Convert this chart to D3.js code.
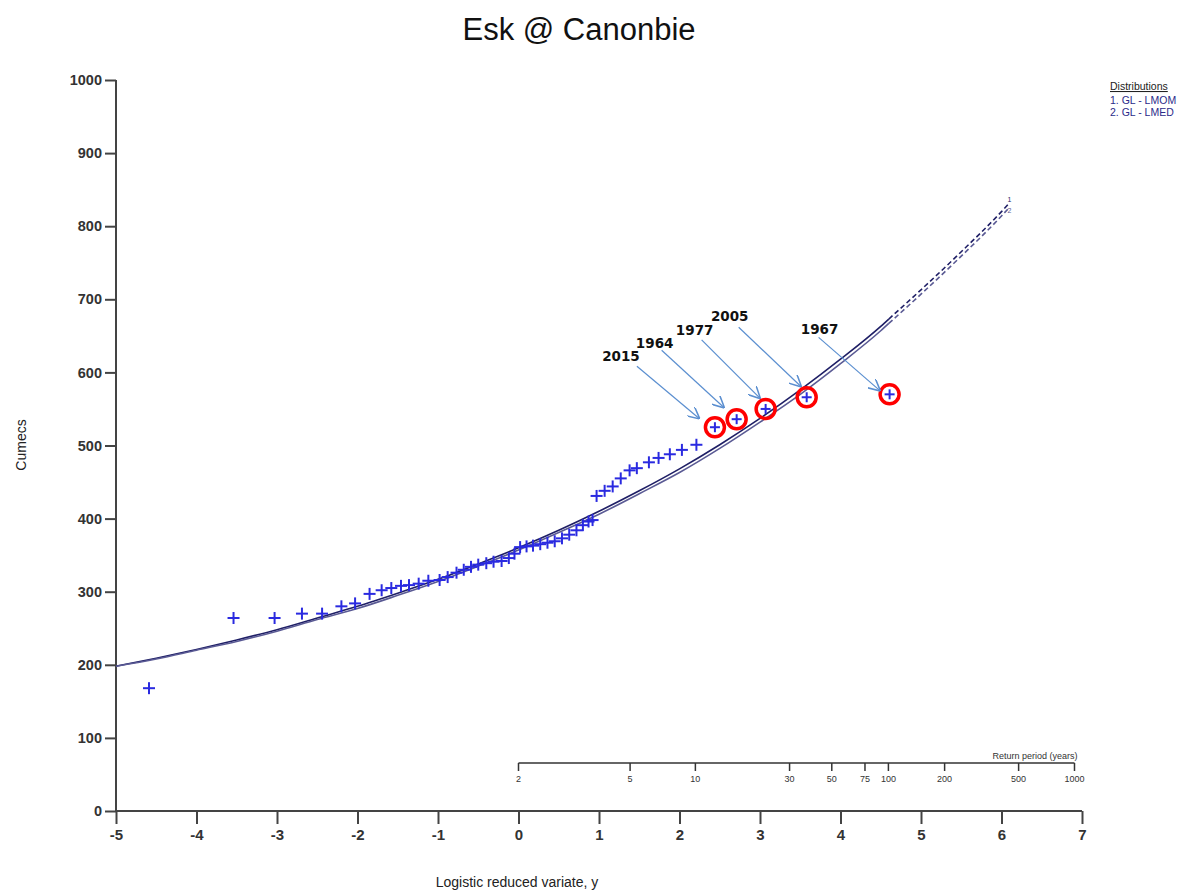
<!DOCTYPE html>
<html>
<head>
<meta charset="utf-8">
<script src="https://cdn.jsdelivr.net/npm/d3@7"></script>
<style>
  html, body { margin: 0; padding: 0; background: #ffffff; }
  svg { display: block; }
</style>
</head>
<body>
<svg id="chart" width="1188" height="890"></svg>
<script>
// ---------------- DATA ----------------
const title = "Esk @ Canonbie";
const yTicks = [0, 100, 200, 300, 400, 500, 600, 700, 800, 900, 1000];
const xTicks = [-5, -4, -3, -2, -1, 0, 1, 2, 3, 4, 5, 6, 7];
const returnPeriods = [2, 5, 10, 30, 50, 75, 100, 200, 500, 1000];
const legendItems = ["1. GL - LMOM", "2. GL - LMED"];

// observed annual maxima: logistic reduced variate and flow (cumecs)
const obsVariate = [-4.59, -3.54, -3.03, -2.69, -2.44, -2.20, -2.03, -1.85, -1.70, -1.58,
  -1.46, -1.36, -1.24, -1.12, -0.98, -0.88, -0.77, -0.68, -0.59, -0.50,
  -0.40, -0.31, -0.21, -0.12, -0.05, 0.02, 0.10, 0.18, 0.27, 0.36,
  0.45, 0.54, 0.63, 0.72, 0.80, 0.87, 0.92, 0.97, 1.07, 1.17,
  1.27, 1.38, 1.47, 1.62, 1.74, 1.88, 2.03, 2.21];
const obsFlow = [168, 264, 264, 270, 270, 280, 284, 297, 302, 305,
  308, 309, 311, 315, 316, 320, 326, 330, 334, 337,
  339, 341, 342, 346, 352, 361, 362, 363, 365, 367,
  369, 373, 378, 384, 391, 396, 398, 431, 438, 444,
  455, 466, 469, 477, 483, 488, 494, 501];

// highlighted events
const eventYears = ["2015", "1964", "1977", "2005", "1967"];
const eventVariate = [2.44, 2.71, 3.07, 3.58, 4.61];
const eventFlow = [525, 536, 550, 566, 570];

// fitted growth curves
const curveVariate = [-5, -4.5, -4, -3.5, -3, -2.5, -2, -1.5, -1, -0.5, 0, 0.5, 1, 1.5,
  2, 2.5, 3, 3.5, 4, 4.5, 4.6, 5, 5.5, 6, 6.1];
const glLmom = [198, 209, 221, 234, 248, 264, 280, 298, 317, 338, 360, 384, 410, 438,
  468, 501, 537, 576, 618, 663, 673, 713, 765, 820, 832];
const glLmed = [198, 208, 220, 232, 246, 262, 277, 295, 314, 335, 357, 381, 406, 434,
  463, 496, 532, 570, 612, 657, 667, 707, 759, 814, 826];
const solidLimit = 4.6;

// ---------------- LAYOUT ----------------
const svg = d3.select("#chart");
const x = d3.scaleLinear().domain([-5, 7]).range([116, 1082]);
const y = d3.scaleLinear().domain([0, 1000]).range([811, 80]);
const axisFont = "'Liberation Sans Narrow', 'Liberation Sans', Arial, sans-serif";

// title
svg.append("text").attr("x", 579).attr("y", 40).attr("text-anchor", "middle")
  .attr("font-family", "'Liberation Sans', Arial, sans-serif").attr("font-size", 31)
  .attr("fill", "#111").text(title);

// y axis
const yAxis = d3.axisLeft(y).tickValues(yTicks).tickSize(11).tickPadding(3)
  .tickFormat(d => String(d));
const gy = svg.append("g").attr("transform", `translate(${x(-5)},0)`).call(yAxis);
gy.select(".domain").attr("d", `M0,${y(1000)}V${y(0)}`).attr("stroke", "#444").attr("stroke-width", 2);
gy.selectAll(".tick line").attr("stroke", "#444").attr("stroke-width", 2);
gy.selectAll(".tick text").attr("font-family", "'Liberation Sans', Arial, sans-serif")
  .attr("font-size", 14.5).attr("font-weight", "bold").attr("fill", "#333");

// x axis
const xAxis = d3.axisBottom(x).tickValues(xTicks).tickSize(13).tickPadding(5)
  .tickFormat(d => String(d));
const gx = svg.append("g").attr("transform", `translate(0,${y(0)})`).call(xAxis);
gx.select(".domain").attr("d", `M${x(-5)},0H${x(7)}`).attr("stroke", "#444").attr("stroke-width", 2);
gx.selectAll(".tick line").attr("stroke", "#444").attr("stroke-width", 2);
gx.selectAll(".tick text").attr("font-family", axisFont)
  .attr("font-size", 15).attr("font-weight", "bold").attr("fill", "#333");

// axis titles
svg.append("text").attr("transform", `translate(26,445) rotate(-90)`).attr("text-anchor", "middle")
  .attr("font-family", axisFont).attr("font-size", 14).attr("fill", "#222").text("Cumecs");
svg.append("text").attr("x", 517).attr("y", 887).attr("text-anchor", "middle")
  .attr("font-family", axisFont).attr("font-size", 14).attr("fill", "#222")
  .text("Logistic reduced variate, y");

// return period axis
const rpY = 763;
const rpPos = T => x(Math.log(T - 1));
const rp = svg.append("g");
rp.append("line").attr("x1", rpPos(2)).attr("x2", rpPos(1000)).attr("y1", rpY).attr("y2", rpY)
  .attr("stroke", "#333").attr("stroke-width", 1.5);
rp.selectAll("line.rt").data(returnPeriods).join("line").attr("class", "rt")
  .attr("x1", d => rpPos(d)).attr("x2", d => rpPos(d)).attr("y1", rpY).attr("y2", rpY + 8)
  .attr("stroke", "#333").attr("stroke-width", 1.5);
rp.selectAll("text.rl").data(returnPeriods).join("text").attr("class", "rl")
  .attr("x", d => rpPos(d)).attr("y", rpY + 19).attr("text-anchor", "middle")
  .attr("font-family", axisFont).attr("font-size", 9).attr("fill", "#333").text(d => d);
rp.append("text").attr("x", rpPos(1000) + 3).attr("y", rpY - 4).attr("text-anchor", "end")
  .attr("font-family", axisFont).attr("font-size", 9).attr("fill", "#333")
  .text("Return period (years)");

// fitted curves
const curves = [
  { vals: glLmom, color: "#1f1f66", label: "1" },
  { vals: glLmed, color: "#5a5a94", label: "2" }
];
const line = d3.line().x(d => x(d[0])).y(d => y(d[1])).curve(d3.curveMonotoneX);
curves.forEach(c => {
  const pts = curveVariate.map((v, i) => [v, c.vals[i]]);
  svg.append("path").attr("d", line(pts.filter(p => p[0] <= solidLimit)))
    .attr("fill", "none").attr("stroke", c.color).attr("stroke-width", 1.6);
  svg.append("path").attr("d", line(pts.filter(p => p[0] >= solidLimit)))
    .attr("fill", "none").attr("stroke", c.color).attr("stroke-width", 1.6)
    .attr("stroke-dasharray", "5,3");
  const last = pts[pts.length - 1];
  svg.append("text").attr("x", x(last[0])).attr("y", y(last[1]) + (c.label === "1" ? -1 : 6))
    .attr("text-anchor", "middle").attr("font-family", axisFont).attr("font-size", 7)
    .attr("fill", c.color).text(c.label);
});

// observed points
const crossColor = "#2a2ae0";
function drawCross(g, cx, cy, h) {
  g.append("line").attr("x1", cx - h).attr("x2", cx + h).attr("y1", cy).attr("y2", cy)
    .attr("stroke", crossColor).attr("stroke-width", 2);
  g.append("line").attr("x1", cx).attr("x2", cx).attr("y1", cy - h).attr("y2", cy + h)
    .attr("stroke", crossColor).attr("stroke-width", 2);
}
const pg = svg.append("g");
obsVariate.forEach((v, i) => drawCross(pg, x(v), y(obsFlow[i]), 6));

// highlighted events
const labelOffsets = [ // [text centre dx, baseline dy, arrow start dx, dy, arrow end dx, dy]
  [-94, -66, -78, -61, -16, -9],
  [-82, -71, -75, -69, -13, -12],
  [-71, -74, -64, -69, -6, -11],
  [-77, -76, -68, -70, -6, -11],
  [-70, -60, -71, -57, -10, -4]
];
const defs = svg.append("defs");
defs.append("marker").attr("id", "arr").attr("viewBox", "0 0 10 10").attr("refX", 9).attr("refY", 5)
  .attr("markerWidth", 12).attr("markerHeight", 12).attr("markerUnits", "userSpaceOnUse")
  .attr("orient", "auto")
  .append("path").attr("d", "M0,0L10,5L0,10").attr("fill", "none")
  .attr("stroke", "#5b8fd0").attr("stroke-width", 1.3);

eventYears.forEach((yr, i) => {
  const cx = x(eventVariate[i]), cy = y(eventFlow[i]);
  const o = labelOffsets[i];
  svg.append("circle").attr("cx", cx).attr("cy", cy).attr("r", 9.5)
    .attr("fill", "none").attr("stroke", "#ff0000").attr("stroke-width", 3.5);
  drawCross(svg, cx, cy, 5);
  svg.append("line").attr("x1", cx + o[2]).attr("y1", cy + o[3])
    .attr("x2", cx + o[4]).attr("y2", cy + o[5])
    .attr("stroke", "#5b8fd0").attr("stroke-width", 1.2).attr("marker-end", "url(#arr)");
  svg.append("text").attr("x", cx + o[0]).attr("y", cy + o[1]).attr("text-anchor", "middle")
    .attr("font-family", "'DejaVu Sans', Verdana, sans-serif").attr("font-weight", "bold")
    .attr("font-size", 13.5).attr("fill", "#111").text(yr);
});

// legend
const lg = svg.append("g").attr("font-family", "'Liberation Sans', Arial, sans-serif");
lg.append("text").attr("x", 1110).attr("y", 90).attr("font-size", 10.5).attr("fill", "#222")
  .attr("text-decoration", "underline").text("Distributions");
lg.selectAll("text.li").data(legendItems).join("text").attr("class", "li")
  .attr("x", 1110).attr("y", (d, i) => 104 + i * 12).attr("font-size", 10.5)
  .attr("fill", "#2b2b8a").text(d => d);
</script>
</body>
</html>
